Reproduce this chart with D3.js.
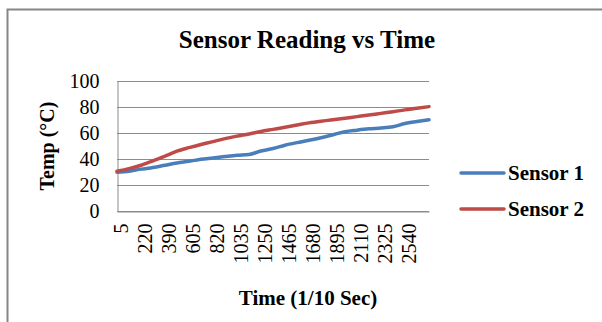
<!DOCTYPE html>
<html>
<head>
<meta charset="utf-8">
<script src="https://cdn.jsdelivr.net/npm/d3@7"></script>
<style>
    body { margin: 0; background: #fff; }
    text { font-family: "Liberation Serif", "Times New Roman", serif; fill: #000; }
</style>
</head>
<body>
<svg id="chart" width="602" height="322"></svg>
<script>
'use strict';

// axis labels shown on the category axis (every second sample)
var timeLabels = ['5', '220', '390', '605', '820', '1035', '1250', '1465', '1680', '1895', '2110', '2325', '2540'];
var yTicks = [0, 20, 40, 60, 80, 100];
var seriesNames = ['Sensor 1', 'Sensor 2'];
var seriesColors = ['#4a7ebb', '#be4b48'];

// readings (°C), one per sample
var sensor1 = [29.8, 30.6, 32.2, 33.4, 35.2, 37.0, 38.2, 39.8, 40.8, 41.9, 42.9, 43.5, 46.1, 48.1,
    50.6, 52.6, 54.4, 56.4, 58.7, 61.0, 62.2, 63.2, 63.8, 64.8, 67.3, 68.8, 70.2];
var sensor2 = [30.6, 32.6, 35.2, 38.5, 42.2, 46.0, 48.7, 51.2, 53.4, 55.7, 57.6, 59.3, 61.2, 62.8,
    64.4, 66.1, 67.8, 69.1, 70.2, 71.4, 72.6, 73.8, 75.1, 76.4, 77.8, 79.0, 80.3];

var svg = d3.select('#chart');
var plot = { left: 117, right: 429, top: 81, bottom: 211 };

// outer chart frame
svg.append('rect')
    .attr('x', 7.5).attr('y', 9.5)
    .attr('width', 640).attr('height', 340)
    .attr('fill', 'none')
    .attr('stroke', '#868686')
    .attr('stroke-width', 2);

var x = d3.scaleLinear().domain([0, sensor1.length - 1]).range([plot.left, plot.right]);
var y = d3.scaleLinear().domain([0, 100]).range([plot.bottom, plot.top]);

// gridlines
svg.append('g')
    .selectAll('line')
    .data(yTicks)
    .join('line')
    .attr('x1', plot.left).attr('x2', plot.right)
    .attr('y1', function (d) { return y(d) + 0.5; })
    .attr('y2', function (d) { return y(d) + 0.5; })
    .attr('stroke', '#8c8c8c')
    .attr('stroke-width', 1);

// y axis
var yAxis = svg.append('g')
    .attr('transform', 'translate(' + (plot.left + 0.5) + ',0)')
    .call(d3.axisLeft(y).tickValues(yTicks).tickSize(0).tickPadding(18));
yAxis.select('.domain').attr('stroke', '#8c8c8c');
yAxis.selectAll('text')
    .style('font-family', '"Liberation Serif", serif')
    .style('font-size', '20px')
    .attr('fill', '#000');

// x axis (category labels rotated)
var tickIdx = timeLabels.map(function (d, i) { return i * 2; });
var xAxis = svg.append('g')
    .attr('transform', 'translate(0,' + (plot.bottom + 0.5) + ')')
    .call(d3.axisBottom(x).tickValues(tickIdx).tickSize(0)
        .tickFormat(function (d, i) { return timeLabels[i]; }));
xAxis.select('.domain').attr('stroke', '#8c8c8c');
xAxis.selectAll('text')
    .style('font-family', '"Liberation Serif", serif')
    .style('font-size', '20px')
    .attr('fill', '#000')
    .attr('text-anchor', 'end')
    .attr('transform', 'rotate(-90)')
    .attr('x', -12)
    .attr('y', 3)
    .attr('dy', '0.35em');

// series lines
var line = d3.line()
    .x(function (d, i) { return x(i); })
    .y(function (d) { return y(d); })
    .curve(d3.curveMonotoneX);

[sensor1, sensor2].forEach(function (values, s) {
    svg.append('path')
        .datum(values)
        .attr('d', line)
        .attr('fill', 'none')
        .attr('stroke', seriesColors[s])
        .attr('stroke-width', 3.5)
        .attr('stroke-linejoin', 'round')
        .attr('stroke-linecap', 'round');
});

// titles
svg.append('text')
    .attr('x', 307).attr('y', 48)
    .attr('text-anchor', 'middle')
    .style('font-size', '25px')
    .style('font-weight', 'bold')
    .text('Sensor Reading vs Time');

svg.append('text')
    .attr('x', 308).attr('y', 305)
    .attr('text-anchor', 'middle')
    .style('font-size', '21px')
    .style('font-weight', 'bold')
    .text('Time (1/10 Sec)');

svg.append('text')
    .attr('transform', 'translate(54,' + ((plot.top + plot.bottom) / 2) + ') rotate(-90)')
    .attr('text-anchor', 'middle')
    .style('font-size', '20px')
    .style('font-weight', 'bold')
    .text('Temp (°C)');

// legend
var legend = svg.append('g')
    .selectAll('g')
    .data(seriesNames)
    .join('g')
    .attr('transform', function (d, i) { return 'translate(461,' + (173 + i * 36) + ')'; });

legend.append('line')
    .attr('x1', 0).attr('x2', 43)
    .attr('stroke', function (d, i) { return seriesColors[i]; })
    .attr('stroke-width', 3.5)
    .attr('stroke-linecap', 'round');

legend.append('text')
    .attr('x', 47).attr('y', 7)
    .style('font-size', '21px')
    .style('font-weight', 'bold')
    .text(function (d) { return d; });
</script>
</body>
</html>
